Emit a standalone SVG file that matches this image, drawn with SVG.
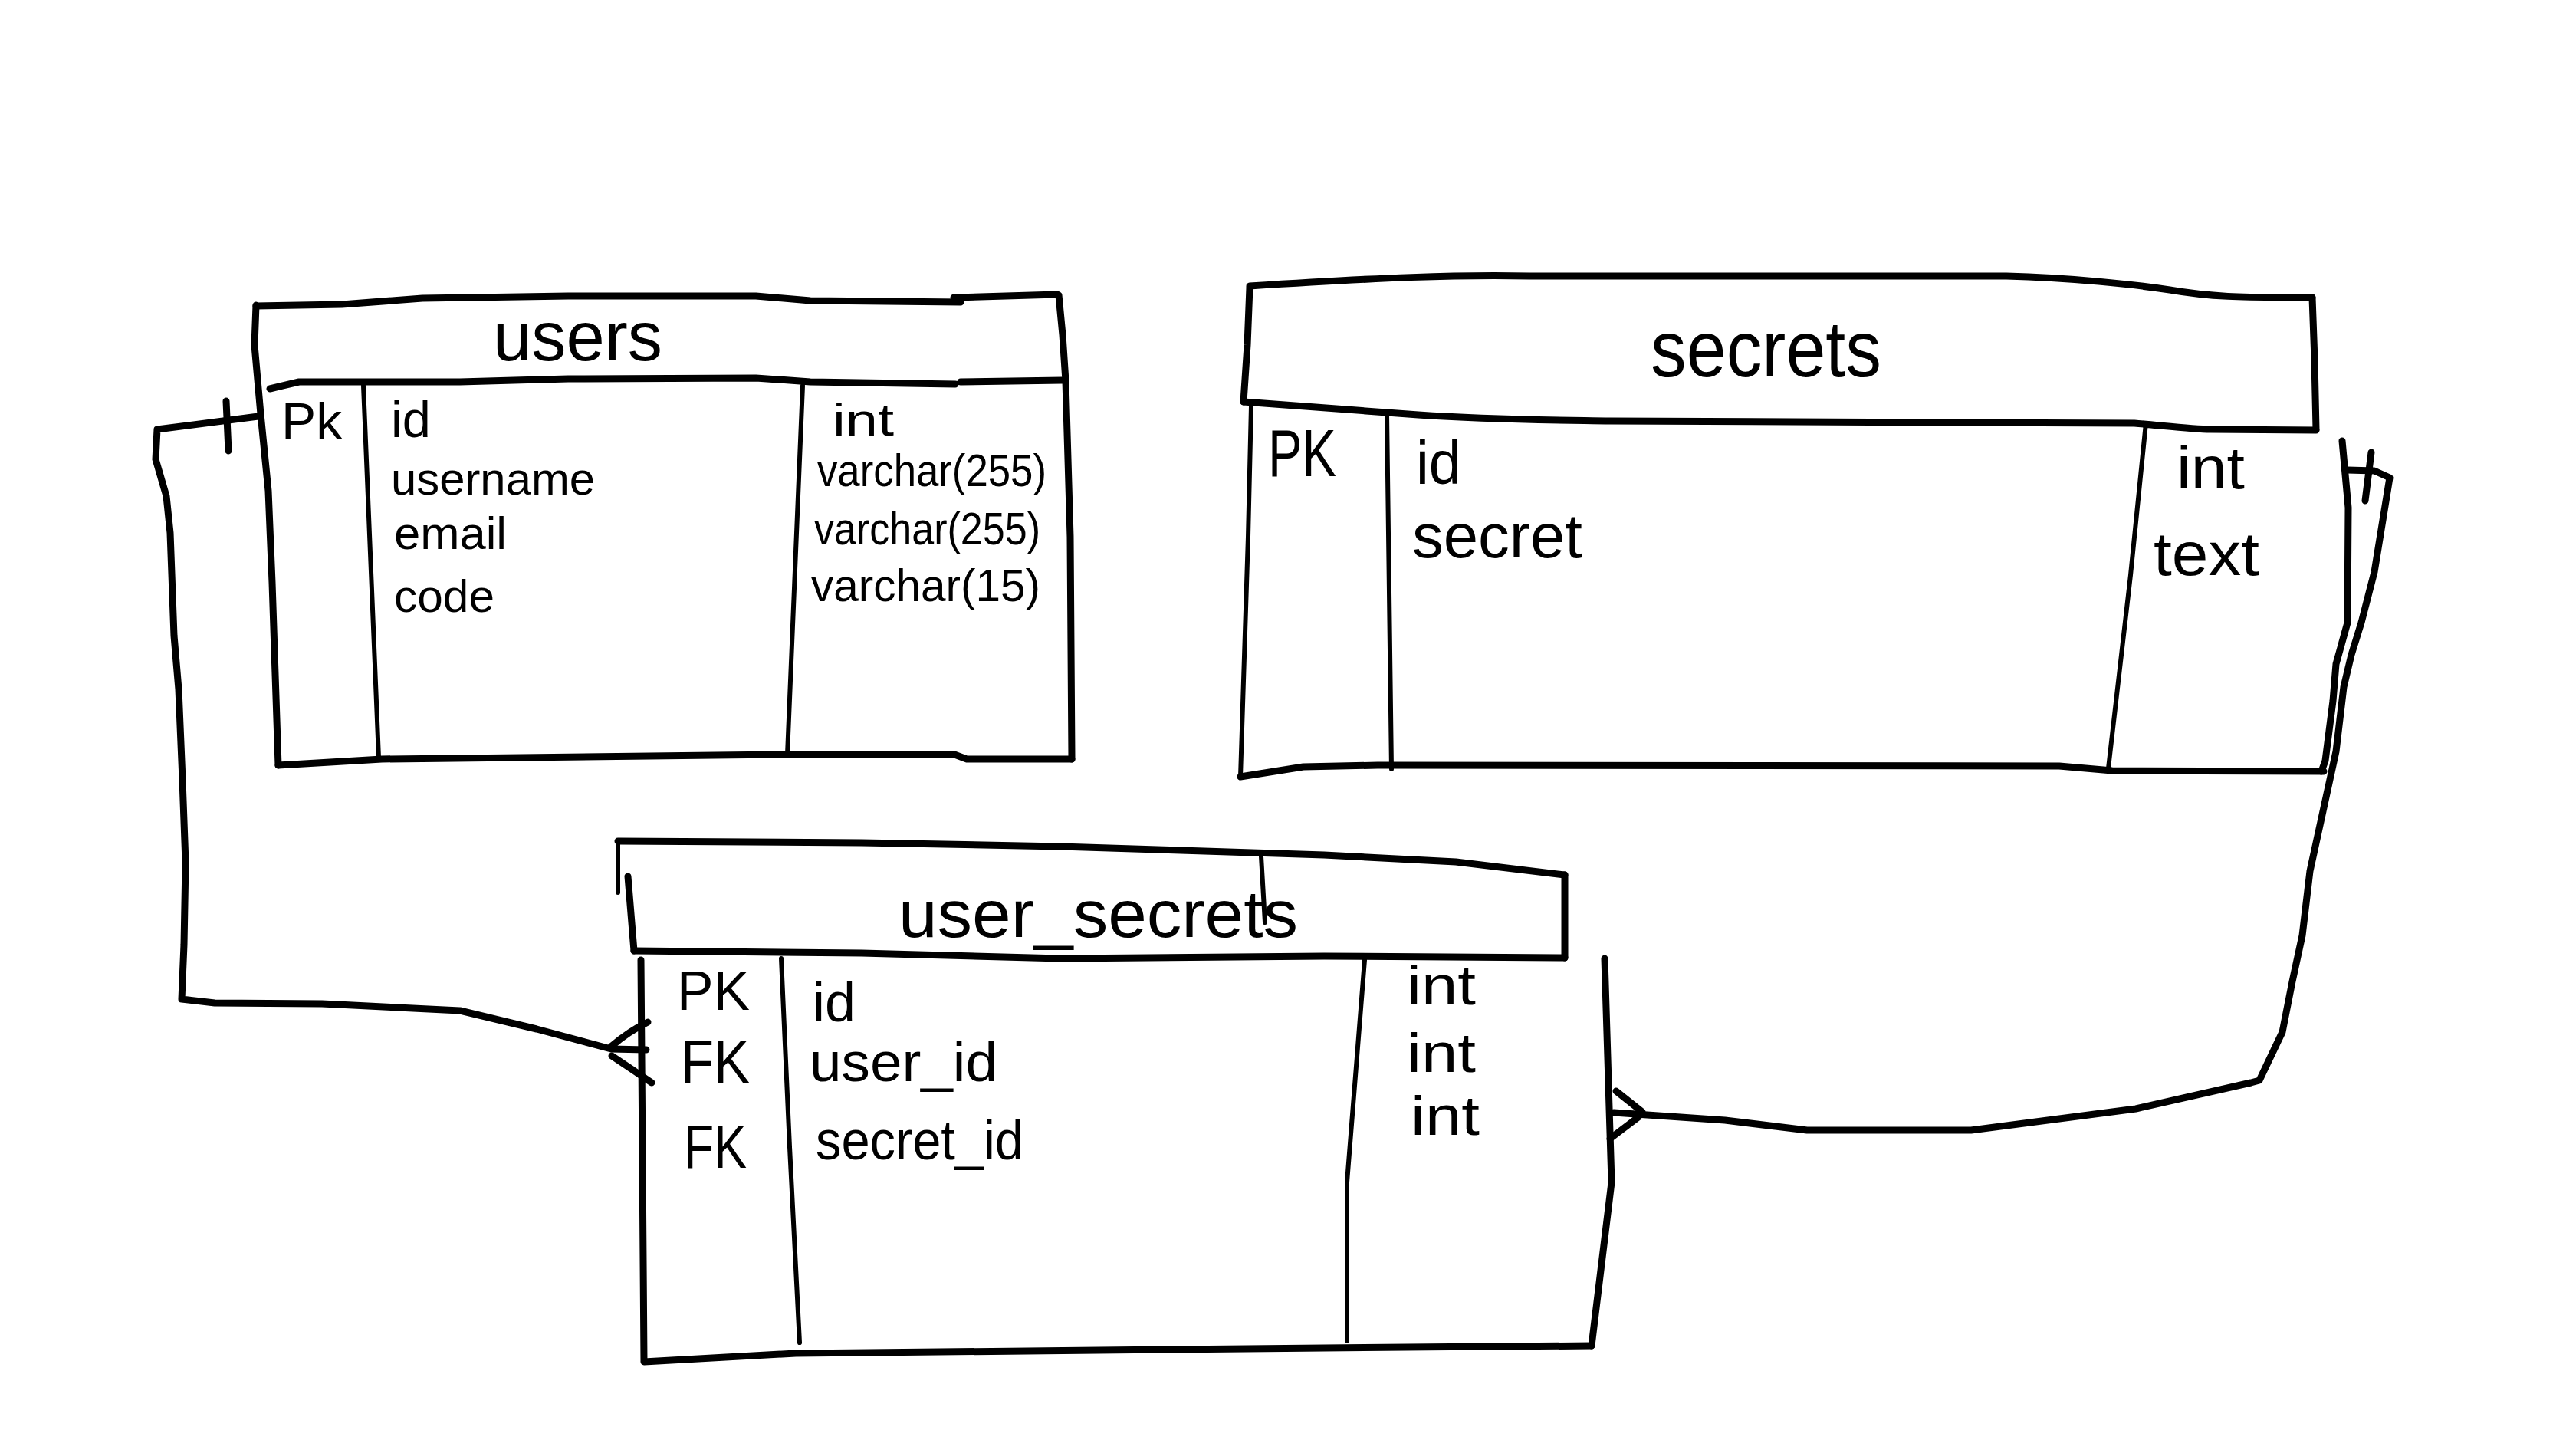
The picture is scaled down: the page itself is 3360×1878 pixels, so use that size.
<svg xmlns="http://www.w3.org/2000/svg" width="3360" height="1878" viewBox="0 0 3360 1878">
<style>
.b{fill:none;stroke:#000;stroke-width:9;stroke-linecap:round;stroke-linejoin:round}
.d{fill:none;stroke:#000;stroke-width:6;stroke-linecap:round;stroke-linejoin:round}
.t{font-family:"Liberation Sans",Arial,sans-serif;fill:#000}
</style>
<rect width="3360" height="1878" fill="#fff"/>
<g id="users">
<path class="b" d="M334,399 L446,397 L551,389 L741,386 L986,386 L1057,392 L1253,394"/>
<path class="b" stroke-width="12" d="M1244,388 L1379,384"/>
<path class="b" d="M334,398 L332,450 L340,540 L350,640 L355,760 L363,998"/>
<path class="b" d="M352,507 L390,498 L600,498 L741,494 L986,493 L1057,498 L1246,501 M1253,498 L1386,496"/>
<path class="b" d="M1381,385 L1386,437 L1390,497 L1396,700 L1398,990"/>
<path class="b" d="M363,998 L498,990 L1023,984 L1245,984 L1261,990 L1398,990"/>
<path class="d" d="M474,503 L494,988"/>
<path class="d" d="M1047,503 L1027,984"/>
<text class="t" x="643" y="470" font-size="90" textLength="221" lengthAdjust="spacingAndGlyphs">users</text>
<text class="t" x="367" y="572" font-size="66" textLength="79" lengthAdjust="spacingAndGlyphs">Pk</text>
<text class="t" x="510" y="570" font-size="66" textLength="52" lengthAdjust="spacingAndGlyphs">id</text>
<text class="t" x="510" y="645" font-size="60" textLength="266" lengthAdjust="spacingAndGlyphs">username</text>
<text class="t" x="514" y="716" font-size="60" textLength="147" lengthAdjust="spacingAndGlyphs">email</text>
<text class="t" x="514" y="798" font-size="60" textLength="131" lengthAdjust="spacingAndGlyphs">code</text>
<text class="t" x="1086" y="568" font-size="60" textLength="80" lengthAdjust="spacingAndGlyphs">int</text>
<text class="t" x="1066" y="634" font-size="60" textLength="299" lengthAdjust="spacingAndGlyphs">varchar(255)</text>
<text class="t" x="1062" y="710" font-size="60" textLength="295" lengthAdjust="spacingAndGlyphs">varchar(255)</text>
<text class="t" x="1058" y="784" font-size="60" textLength="299" lengthAdjust="spacingAndGlyphs">varchar(15)</text>
</g>
<g id="secrets">
<path class="b" d="M1630,373 C1800,362 1900,358 1995,360 L2617,360 C2700,362 2784,371 2830,378 C2900,390 2950,387 3016,388"/>
<path class="b" d="M1630,375 L1627,450 L1622,524"/>
<path class="b" d="M3016,388 L3019,470 L3021,560"/>
<path class="b" d="M1622,524 C1700,530 1797,537 1850,541 C1950,548 2044,548 2100,549 L2784,552 C2820,555 2860,560 2883,560 L3021,561"/>
<path class="d" d="M1632,530 L1628,700 L1618,1013"/>
<path class="b" d="M1618,1013 L1700,1000 L1797,998 L2686,999 L2755,1005 L3031,1006"/>
<path class="b" d="M3055,575 L3063,662 L3062,812 L3047,866 L3043,914 L3033,992 L3028,1006"/>
<path class="d" d="M1809,541 L1815,1003"/>
<path class="d" d="M2799,552 L2779,750 L2750,1002"/>
<text class="t" x="2153" y="491" font-size="104" textLength="301" lengthAdjust="spacingAndGlyphs">secrets</text>
<text class="t" x="1654" y="621" font-size="88" textLength="89" lengthAdjust="spacingAndGlyphs">PK</text>
<text class="t" x="1847" y="631" font-size="80" textLength="59" lengthAdjust="spacingAndGlyphs">id</text>
<text class="t" x="1842" y="727" font-size="82" textLength="222" lengthAdjust="spacingAndGlyphs">secret</text>
<text class="t" x="2839" y="637" font-size="78" textLength="89" lengthAdjust="spacingAndGlyphs">int</text>
<text class="t" x="2809" y="750" font-size="80" textLength="138" lengthAdjust="spacingAndGlyphs">text</text>
</g>
<g id="user_secrets">
<path class="b" d="M806,1097 L1124,1099 L1383,1104 L1727,1115 L1899,1124 L2041,1141"/>
<path class="d" d="M806,1097 L806,1164"/>
<path class="b" d="M819,1143 L827,1240"/>
<path class="b" d="M827,1240 L1124,1243 L1383,1250 L1727,1247 L2041,1249"/>
<path class="b" d="M2041,1141 L2041,1249"/>
<path class="d" d="M1645,1117 L1650,1203"/>
<path class="b" d="M836,1252 L840,1774"/>
<path class="b" d="M840,1776 L1038,1765 L1727,1758 L2076,1755"/>
<path class="b" d="M2093,1250 L2102,1542 L2076,1755"/>
<path class="d" d="M1019,1250 L1030,1496 L1043,1751"/>
<path class="d" d="M1780,1252 L1757,1542 L1757,1749"/>
<text class="t" x="1172" y="1222" font-size="88" textLength="521" lengthAdjust="spacingAndGlyphs">user_secrets</text>
<text class="t" x="883" y="1317" font-size="72" textLength="95" lengthAdjust="spacingAndGlyphs">PK</text>
<text class="t" x="1060" y="1332" font-size="72" textLength="56" lengthAdjust="spacingAndGlyphs">id</text>
<text class="t" x="888" y="1412" font-size="80" textLength="90" lengthAdjust="spacingAndGlyphs">FK</text>
<text class="t" x="1056" y="1410" font-size="72" textLength="245" lengthAdjust="spacingAndGlyphs">user_id</text>
<text class="t" x="892" y="1523" font-size="80" textLength="82" lengthAdjust="spacingAndGlyphs">FK</text>
<text class="t" x="1064" y="1512" font-size="72" textLength="271" lengthAdjust="spacingAndGlyphs">secret_id</text>
<text class="t" x="1835" y="1310" font-size="72" textLength="90" lengthAdjust="spacingAndGlyphs">int</text>
<text class="t" x="1835" y="1398" font-size="72" textLength="90" lengthAdjust="spacingAndGlyphs">int</text>
<text class="t" x="1840" y="1480" font-size="72" textLength="90" lengthAdjust="spacingAndGlyphs">int</text>
</g>
<g id="connectors">
<path class="b" d="M337,543 L205,560 L203,599 L217,647 L222,695 L227,829 L233,899 L238,1017 L242,1125 L240,1232 L237,1303 L280,1308 L420,1309 L600,1318 L700,1342 L797,1368 L843,1369"/>
<path class="b" d="M797,1365 Q820,1345 845,1333 M798,1377 Q825,1395 850,1412"/>
<path class="b" d="M295,523 L298,588"/>
<path class="b" d="M2105,1451 L2250,1461 L2357,1474 L2571,1474 L2786,1446 L2936,1412 L2947,1409 L2977,1346 L2990,1280 L3003,1220 L3013,1136 L3030,1058 L3047,980 L3057,896 L3067,854 L3080,812 L3097,746 L3117,623 L3097,614 L3062,613"/>
<path class="b" d="M2108,1423 L2142,1450 M2100,1485 L2137,1457"/>
<path class="b" d="M3093,590 L3085,653"/>
</g>
</svg>
